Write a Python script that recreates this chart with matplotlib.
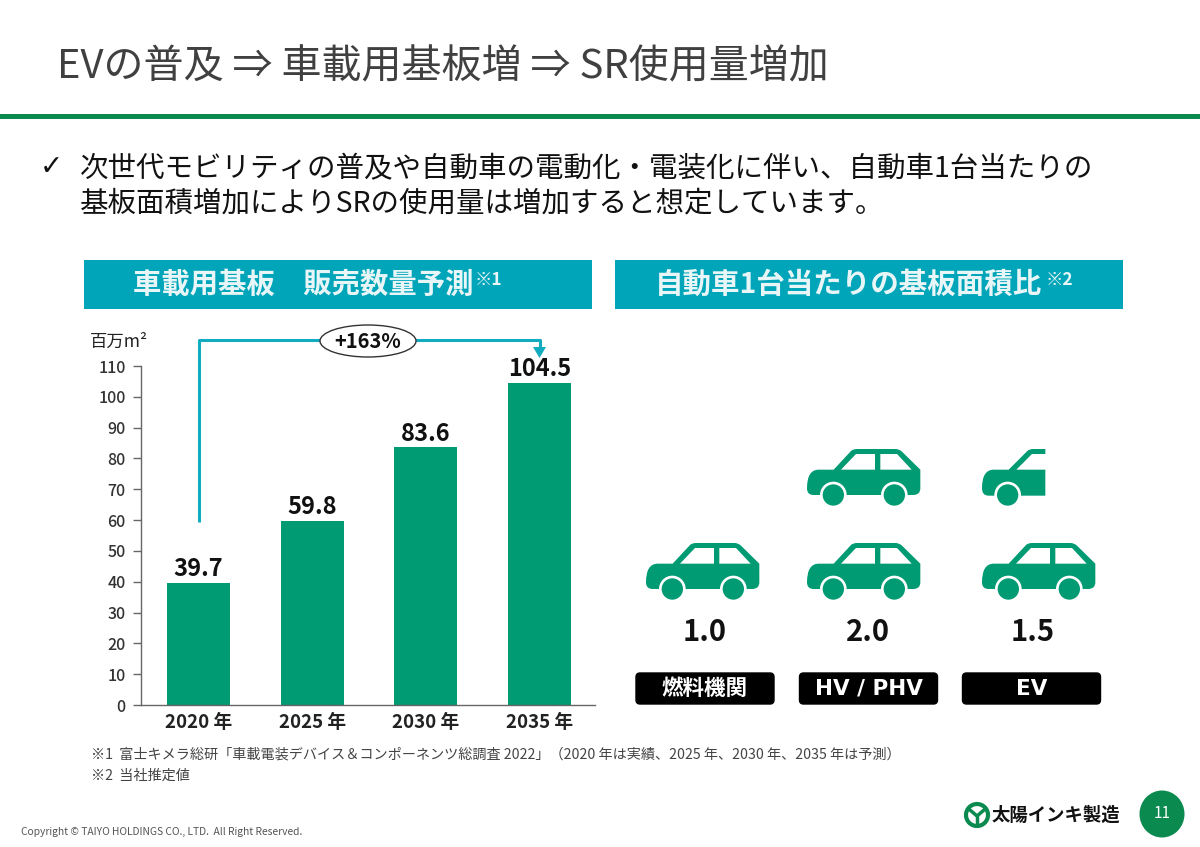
"""EV adoption slide: automotive PCB forecast and PCB area per vehicle."""

import matplotlib

matplotlib.use("Agg")
import matplotlib.pyplot as plt  # noqa: E402
from matplotlib.patches import Circle, Ellipse, FancyBboxPatch, PathPatch, Polygon, Rectangle  # noqa: E402
from matplotlib.path import Path  # noqa: E402

JP = ["Noto Sans CJK JP", "DejaVu Sans"]
LATIN_FIRST = ["DejaVu Sans", "Noto Sans CJK JP"]
plt.rcParams["font.family"] = JP

GREEN = "#009A73"
RULE_GREEN = "#0B8A4F"
TEAL = "#00A5B9"
ARROW_TEAL = "#12ACC0"

# left chart
years = ["2020 年", "2025 年", "2030 年", "2035 年"]
sales = [39.7, 59.8, 83.6, 104.5]
y_ticks = list(range(0, 111, 10))

# right chart
powertrains = ["燃料機関", "HV / PHV", "EV"]
area_ratio = ["1.0", "2.0", "1.5"]

W, H = 1200, 847
M, L, C = Path.MOVETO, Path.LINETO, Path.CURVE3

BODY = [((0, 118), M), ((0, 62), C), ((35, 62), C), ((80, 62), L), ((132, 6), L), ((138, 0), C), ((150, 0), C),
        ((265, 0), L), ((277, 0), C), ((285, 8), C), ((340, 62), L), ((340, 118), L), ((340, 138), C),
        ((318, 138), C), ((20, 138), L), ((0, 138), C), ((0, 118), C)]
FRONT = [((0, 118), M), ((0, 62), C), ((35, 62), C), ((80, 62), L), ((136, 6), L), ((142, 0), C), ((154, 0), C),
         ((190, 0), L), ((190, 15), L), ((150, 15), L), ((103, 62), L), ((190, 62), L), ((190, 140), L),
         ((20, 140), L), ((0, 140), C), ((0, 118), C)]


def icon_path(spec, x, y, s):
    return Path([(x + p[0] * s, y + p[1] * s) for p, _ in spec], [c for _, c in spec])


def wheel(ax, x, y, s):
    ax.add_patch(Circle((x, y), 40 * s, fc="white", ec="none"))
    ax.add_patch(Circle((x, y), 32 * s, fc=GREEN, ec="none"))


def full_car(ax, x, y, s=1 / 3):
    """Whole car, (x, y) is the top-left corner of the icon in pixels."""
    ax.add_patch(PathPatch(icon_path(BODY, x, y, s), fc=GREEN, ec="none"))
    for win in ([(102, 62), (147, 15), (204, 15), (204, 62)], [(220, 15), (270, 15), (314, 62), (220, 62)]):
        ax.add_patch(Polygon([(x + a * s, y + b * s) for a, b in win], closed=True, fc="white", ec="none"))
    for cx in (79, 262):
        wheel(ax, x + cx * s, y + 138 * s, s)


def half_car(ax, x, y, s=1 / 3):
    """Front half with the hood lifted."""
    ax.add_patch(PathPatch(icon_path(FRONT, x, y, s), fc=GREEN, ec="none"))
    wheel(ax, x + 77 * s, y + 138 * s, s)


def main():
    fig = plt.figure(figsize=(12, 8.47), dpi=100, facecolor="white")

    # pixel-coordinate overlay for the slide furniture
    bg = fig.add_axes([0, 0, 1, 1], zorder=0)
    bg.set_xlim(0, W)
    bg.set_ylim(H, 0)
    bg.axis("off")

    bg.text(57, 67, "EVの普及 ⇒ 車載用基板増 ⇒ SR使用量増加", fontsize=28.8, color="#404040", va="center")
    bg.add_patch(Rectangle((0, 114), W, 5, fc=RULE_GREEN, ec="none"))

    bg.text(40, 167, "✓", fontsize=20, color="#111111", va="center", family=["DejaVu Sans"])
    bg.text(80, 169, "次世代モビリティの普及や自動車の電動化・電装化に伴い、自動車1台当たりの", fontsize=20.5,
            color="#111111", va="center")
    bg.text(80, 203, "基板面積増加によりSRの使用量は増加すると想定しています。", fontsize=20.5, color="#111111", va="center")

    # section headers
    bg.add_patch(Rectangle((84, 260), 508, 49, fc=TEAL, ec="none"))
    bg.add_patch(Rectangle((615, 260), 508, 49, fc=TEAL, ec="none"))
    bg.text(133, 285, "車載用基板　販売数量予測", fontsize=20.4, weight="bold", color="#E8F6F7", va="center")
    bg.text(475, 280, "※1", fontsize=12.5, weight="bold", color="#E8F6F7", va="center")
    bg.text(655, 285, "自動車1台当たりの基板面積比", fontsize=20.5, weight="bold", color="#E8F6F7", va="center")
    bg.text(1046, 280, "※2", fontsize=12.5, weight="bold", color="#E8F6F7", va="center")

    # bar chart
    ax = fig.add_axes([141 / W, 1 - 705 / H, (595 - 141) / W, (705 - 366) / H], zorder=1)
    ax.patch.set_alpha(0)
    xs = list(range(len(years)))
    ax.bar(xs, sales, width=0.554, color=GREEN)
    for x, v in zip(xs, sales):
        ax.text(x, v + 0.5, f"{v}", ha="center", va="bottom", fontsize=17, weight="bold", color="#111111")
    ax.set_xlim(-0.506, 3.488)
    ax.set_ylim(0, 110)
    ax.set_yticks(y_ticks)
    ax.set_xticks(xs)
    ax.set_xticklabels(years, fontsize=13.5, weight="bold", color="#222222")
    for lab in ax.get_yticklabels():
        lab.set_fontsize(11.5)
        lab.set_weight("medium")
        lab.set_color("#333333")
    ax.tick_params(axis="y", length=6, width=1, color="#666666", pad=5)
    ax.tick_params(axis="x", length=0, pad=6)
    for side in ("top", "right"):
        ax.spines[side].set_visible(False)
    for side in ("left", "bottom"):
        ax.spines[side].set_color("#666666")
        ax.spines[side].set_linewidth(1)

    bg.text(90, 342, "百万m²", fontsize=12.5, color="#222222", va="center")

    # +163% bracket
    bracket = Path([(198.5, 522), (198.5, 340), (539.5, 340), (539.5, 350)])
    bg.add_patch(PathPatch(bracket, fc="none", ec=ARROW_TEAL, lw=2.2, capstyle="butt", joinstyle="round"))
    bg.add_patch(Polygon([(533, 347), (546, 347), (539.5, 358)], closed=True, fc=ARROW_TEAL, ec="none"))
    bg.add_patch(Ellipse((368, 341), 96, 32, fc="white", ec="#333333", lw=1))
    bg.text(368, 341, "+163%", ha="center", va="center", fontsize=14.5, weight="bold", color="#111111")

    # car icons
    half_car(bg, 982, 449)
    full_car(bg, 646, 543)
    full_car(bg, 807, 449)
    full_car(bg, 807, 543)
    full_car(bg, 982, 543)

    for cx, ratio, lab_cx, name in zip((705, 868, 1033), area_ratio, (705, 868.5, 1031.5), powertrains):
        bg.text(cx, 632, ratio, ha="center", va="center", fontsize=21, weight="bold", color="#111111")
        bg.add_patch(FancyBboxPatch((lab_cx - 69, 673), 138, 31, boxstyle="round,pad=0,rounding_size=4",
                                    fc="black", ec="black", lw=1))
        bg.text(lab_cx, 689, name, ha="center", va="center", fontsize=15.5, weight="bold", color="white",
                family=LATIN_FIRST)

    # footnotes
    bg.text(91, 755, "※1  富士キメラ総研「車載電装デバイス＆コンポーネンツ総調査 2022」（2020 年は実績、2025 年、2030 年、2035 年は予測）",
            fontsize=10.2, color="#444444", va="center")
    bg.text(91, 776, "※2  当社推定値", fontsize=10.2, color="#444444", va="center")
    bg.text(21, 832, "Copyright © TAIYO HOLDINGS CO., LTD.  All Right Reserved.", fontsize=7.4, color="#555555",
            va="center")

    # logo and page number
    bg.add_patch(Circle((977, 815), 11, fc="white", ec=RULE_GREEN, lw=3))
    bg.plot([970, 977, 984], [810, 816, 810], color=RULE_GREEN, lw=2.5)
    bg.plot([977, 977], [816, 825], color=RULE_GREEN, lw=2.5)
    bg.text(992, 815, "太陽インキ製造", fontsize=13.2, weight="bold", color="#111111", va="center")
    bg.add_patch(Ellipse((1162, 814), 45, 47, fc=RULE_GREEN, ec="none"))
    bg.text(1162, 814, "11", fontsize=11, color="white", ha="center", va="center")

    fig.savefig("out.png", dpi=100)
    plt.close(fig)


if __name__ == "__main__":
    main()
